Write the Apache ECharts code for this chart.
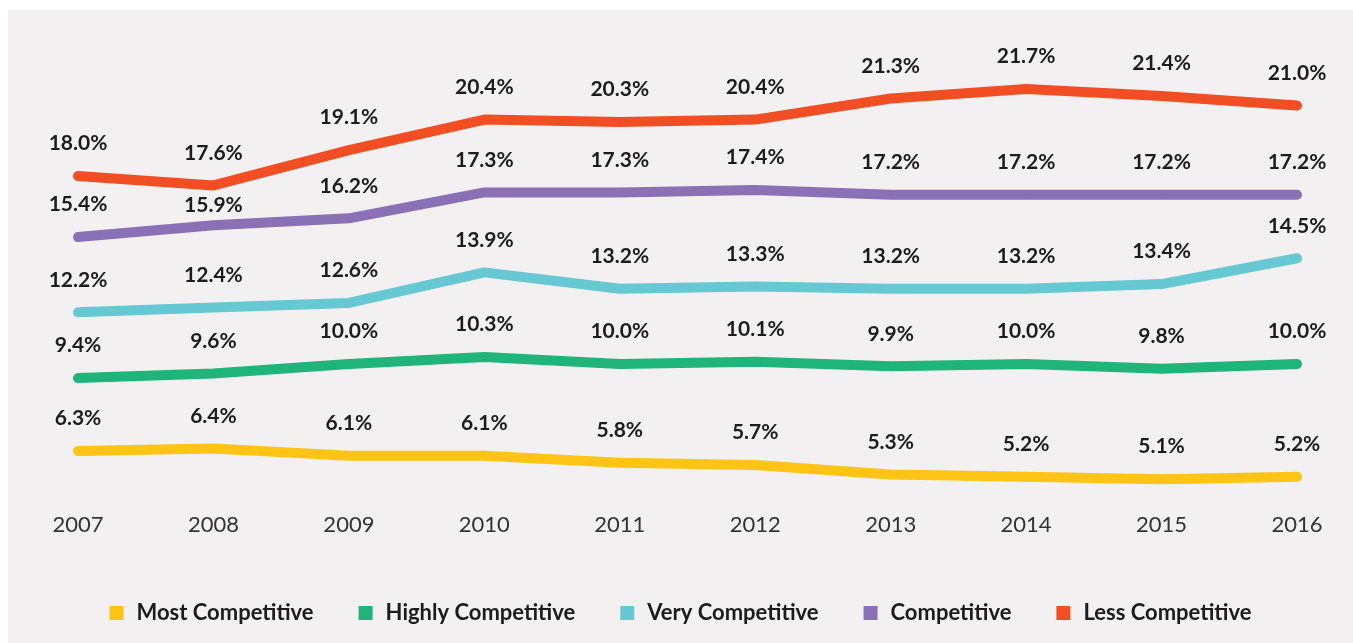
<!DOCTYPE html>
<html>
<head>
<meta charset="utf-8">
<script src="https://cdn.jsdelivr.net/npm/echarts@6/dist/echarts.min.js"></script>
<style>
  html, body { margin: 0; padding: 0; background: #ffffff; }
  #chart {
    position: absolute;
    left: 8px;
    top: 10px;
    width: 1345px;
    height: 633px;
    background: #f2f0f1;
  }
</style>
</head>
<body>
<div id="chart"></div>
<script>
// years on the x axis
var years = ['2007', '2008', '2009', '2010', '2011', '2012', '2013', '2014', '2015', '2016'];

// shares per group (%)
var mostCompetitive   = [6.3, 6.4, 6.1, 6.1, 5.8, 5.7, 5.3, 5.2, 5.1, 5.2];
var highlyCompetitive = [9.4, 9.6, 10.0, 10.3, 10.0, 10.1, 9.9, 10.0, 9.8, 10.0];
var veryCompetitive   = [12.2, 12.4, 12.6, 13.9, 13.2, 13.3, 13.2, 13.2, 13.4, 14.5];
var competitive       = [15.4, 15.9, 16.2, 17.3, 17.3, 17.4, 17.2, 17.2, 17.2, 17.2];
var lessCompetitive   = [18.0, 17.6, 19.1, 20.4, 20.3, 20.4, 21.3, 21.7, 21.4, 21.0];

var names  = ['Most Competitive', 'Highly Competitive', 'Very Competitive', 'Competitive', 'Less Competitive'];
var colors = ['#fdc315', '#1fb57a', '#65c8d3', '#8a70b4', '#f24e23'];
var values = [mostCompetitive, highlyCompetitive, veryCompetitive, competitive, lessCompetitive];

const myChart = echarts.init(document.getElementById('chart'));

const series = names.map((name, i) => {
  return {
    name: name,
    type: 'line',
    data: values[i].map((v, j) => {
      // the 2008 "Competitive" label sits lower so it clears the red line
      if (name === 'Competitive' && j === 1) {
        return { value: v, label: { distance: 9 } }
      }
      return v
    }),
    symbol: 'circle',
    symbolSize: 2,
    showSymbol: true,
    lineStyle: { width: 10, color: colors[i], cap: 'round', join: 'round' },
    itemStyle: { color: colors[i] },
    label: {
      show: true,
      position: 'top',
      distance: 21,
      formatter: p => p.value.toFixed(1) + '%',
      color: '#1f1b1c',
      fontFamily: 'Lato',
      fontWeight: 'bold',
      fontSize: 21
    }
  }
})

const option = {
  animation: false,
  color: colors,
  grid: { left: 70, right: 56, top: 72, bottom: 138 },
  legend: {
    data: names,
    left: 'center',
    top: 587,
    icon: 'rect',
    itemWidth: 14,
    itemHeight: 14,
    itemGap: 45,
    textStyle: {
      color: '#1f1b1c',
      fontFamily: 'Lato',
      fontWeight: 'bold',
      fontSize: 22,
      padding: [0, 0, 0, 8]
    }
  },
  xAxis: {
    type: 'category',
    data: years,
    boundaryGap: false,
    axisLine: { show: false },
    axisTick: { show: false },
    axisLabel: {
      margin: 9,
      color: '#333333',
      fontFamily: 'Lato',
      fontSize: 22
    }
  },
  yAxis: {
    type: 'value',
    min: 4,
    max: 22,
    show: false,
    splitLine: { show: false }
  },
  series: series
};
myChart.setOption(option);
window.addEventListener('resize', () => {
  myChart.resize()
})
</script>
</body>
</html>
